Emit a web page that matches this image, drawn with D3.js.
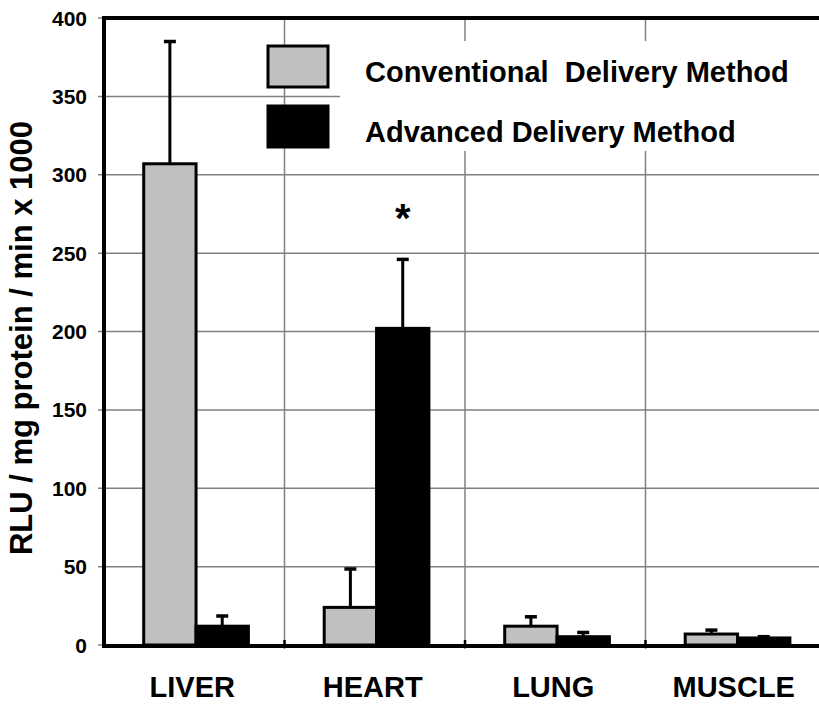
<!DOCTYPE html>
<html>
<head>
<meta charset="utf-8">
<script src="https://cdn.jsdelivr.net/npm/d3@7"></script>
<style>
  body { margin: 0; background: #fff; }
  svg { display: block; font-family: "Liberation Sans", Arial, sans-serif; }
</style>
</head>
<body>
<svg id="chart"></svg>
<script>
// data
const categories = ['LIVER', 'HEART', 'LUNG', 'MUSCLE']
const series = ['Conventional  Delivery Method', 'Advanced Delivery Method']
const conventional = [307, 24, 12, 7]
const conventionalErr = [78, 24.5, 6, 2.5]
const advanced = [12, 202, 5.3, 4.5]
const advancedErr = [6.5, 44, 2.7, 0.8]
const yTicks = [0, 50, 100, 150, 200, 250, 300, 350, 400]

const width = 819
const height = 705
const plotLeft = 104, plotTop = 18, plotBottom = 645, plotRight = 826

const svg = d3.select('#chart')
    .attr('width', width)
    .attr('height', height)

// scales
const x = d3.scaleBand().domain(categories).range([plotLeft, plotRight])
const x1 = d3.scaleBand().domain(series)
    .range([x.bandwidth() * 0.22, x.bandwidth() * 0.8])
const y = d3.scaleLinear().domain([0, 400]).range([plotBottom, plotTop])
const fills = ['#c0c0c0', '#000']

// grid
svg.append('g')
    .selectAll('line')
    .data(yTicks)
    .join('line')
    .attr('x1', plotLeft - 6).attr('x2', plotRight)
    .attr('y1', d => y(d)).attr('y2', d => y(d))
    .attr('stroke', '#808080')
    .attr('stroke-width', 1.5)

svg.append('g')
    .selectAll('line')
    .data(categories.slice(1))
    .join('line')
    .attr('x1', d => x(d)).attr('x2', d => x(d))
    .attr('y1', plotTop).attr('y2', plotBottom + 4)
    .attr('stroke', '#808080')
    .attr('stroke-width', 1.5)

// small ticks across the x axis
svg.append('g')
    .selectAll('line')
    .data(categories.slice(1))
    .join('line')
    .attr('x1', d => x(d)).attr('x2', d => x(d))
    .attr('y1', plotBottom - 5).attr('y2', plotBottom + 3)
    .attr('stroke', '#000')
    .attr('stroke-width', 2.5)

// legend backdrop hides part of the grid
svg.append('rect')
    .attr('x', 340).attr('y', 41)
    .attr('width', width - 340).attr('height', 110)
    .attr('fill', '#fff')

// bars
const rows = categories.map((c, i) => [
    { cat: c, s: series[0], v: conventional[i], e: conventionalErr[i], k: 0 },
    { cat: c, s: series[1], v: advanced[i], e: advancedErr[i], k: 1 }
]).flat()

const bars = svg.append('g')
bars.selectAll('line.err')
    .data(rows)
    .join('line')
    .attr('class', 'err')
    .attr('x1', d => x(d.cat) + x1(d.s) + x1.bandwidth() / 2)
    .attr('x2', d => x(d.cat) + x1(d.s) + x1.bandwidth() / 2)
    .attr('y1', d => y(d.v))
    .attr('y2', d => y(d.v + d.e))
    .attr('stroke', '#000')
    .attr('stroke-width', 3)

bars.selectAll('line.cap')
    .data(rows)
    .join('line')
    .attr('class', 'cap')
    .attr('x1', d => x(d.cat) + x1(d.s) + x1.bandwidth() / 2 - 6)
    .attr('x2', d => x(d.cat) + x1(d.s) + x1.bandwidth() / 2 + 6)
    .attr('y1', d => y(d.v + d.e))
    .attr('y2', d => y(d.v + d.e))
    .attr('stroke', '#000')
    .attr('stroke-width', 3.5)

bars.selectAll('rect')
    .data(rows)
    .join('rect')
    .attr('x', d => x(d.cat) + x1(d.s))
    .attr('y', d => y(d.v))
    .attr('width', x1.bandwidth())
    .attr('height', d => plotBottom - y(d.v))
    .attr('fill', d => fills[d.k])
    .attr('stroke', '#000')
    .attr('stroke-width', 3)

// significance star
svg.append('text')
    .attr('x', x('HEART') + x1(series[1]) + x1.bandwidth() / 2)
    .attr('y', y(advanced[1] + advancedErr[1]) - 27)
    .attr('text-anchor', 'middle')
    .style('font-size', '40px')
    .style('font-weight', 'bold')
    .text('*')

// frame
svg.append('line')
    .attr('x1', plotLeft).attr('x2', plotLeft)
    .attr('y1', plotTop - 2).attr('y2', plotBottom + 2)
    .attr('stroke', '#000').attr('stroke-width', 4)
svg.append('line')
    .attr('x1', plotLeft - 2).attr('x2', plotRight)
    .attr('y1', plotTop).attr('y2', plotTop)
    .attr('stroke', '#000').attr('stroke-width', 4)
svg.append('line')
    .attr('x1', plotLeft - 2).attr('x2', plotRight)
    .attr('y1', plotBottom + 1).attr('y2', plotBottom + 1)
    .attr('stroke', '#000').attr('stroke-width', 4)

// y tick labels
svg.append('g')
    .selectAll('text')
    .data(yTicks)
    .join('text')
    .attr('x', plotLeft - 17)
    .attr('y', d => y(d))
    .attr('dy', '0.36em')
    .attr('text-anchor', 'end')
    .style('font-size', '21px')
    .style('font-weight', 'bold')
    .text(d => d)

// category labels
svg.append('g')
    .selectAll('text')
    .data(categories)
    .join('text')
    .attr('x', d => x(d) + x.bandwidth() / 2 - 2)
    .attr('y', 697)
    .attr('text-anchor', 'middle')
    .style('font-size', '29px')
    .style('font-weight', 'bold')
    .text(d => d)

// y axis title
svg.append('text')
    .attr('transform', 'translate(32,338) rotate(-90)')
    .attr('text-anchor', 'middle')
    .style('font-size', '31px')
    .style('font-weight', 'bold')
    .text('RLU / mg protein / min x 1000')

// legend
const legend = svg.append('g')
    .selectAll('g')
    .data(series)
    .join('g')
    .attr('transform', (d, i) => 'translate(268,' + (46 + i * 60) + ')')
legend.append('rect')
    .attr('width', 60).attr('height', 41)
    .attr('fill', (d, i) => fills[i])
    .attr('stroke', '#000')
    .attr('stroke-width', 3)
legend.append('text')
    .attr('x', 97).attr('y', 36)
    .style('font-size', '29px')
    .style('font-weight', 'bold')
    .style('white-space', 'pre')
    .text(d => d)
</script>
</body>
</html>
